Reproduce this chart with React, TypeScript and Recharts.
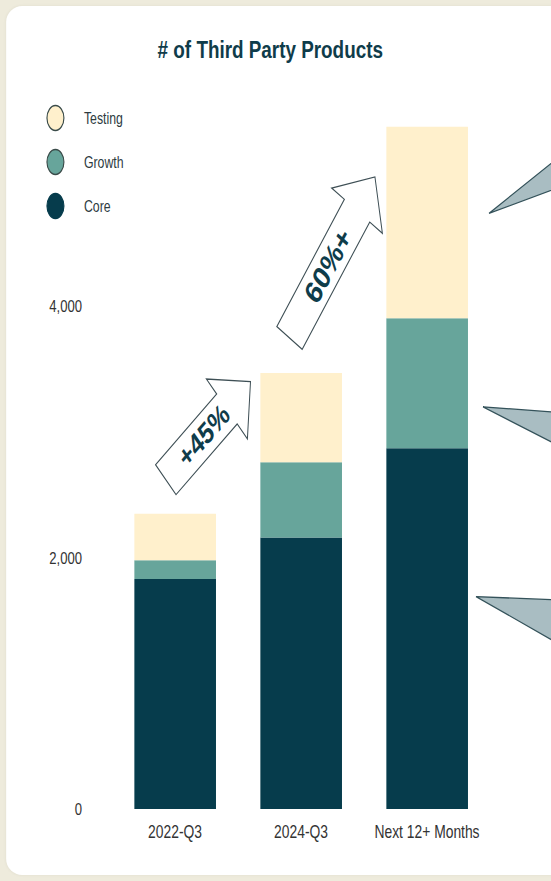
import React from 'react';
import { BarChart, Bar, XAxis, YAxis, Legend, ReferenceDot } from 'recharts';

const categories = ['2022-Q3', '2024-Q3', 'Next 12+ Months'];
const coreValues = [1830, 2160, 2870];
const growthValues = [150, 600, 1035];
const testingValues = [370, 710, 1525];
const yTicks = [0, 2000, 4000];
const yDomain = [0, 6000];
const arrowLabels = ['+45%', '60%+'];
const calloutLevels = [4740, 3200, 1690];

const seriesNames = ['Core', 'Growth', 'Testing'];
const seriesColors = ['#063c4c', '#67a59b', '#fff0cc'];

const data = categories.map((c, i) => ({
  name: c,
  Core: coreValues[i],
  Growth: growthValues[i],
  Testing: testingValues[i],
}));
const totals = categories.map((_, i) => coreValues[i] + growthValues[i] + testingValues[i]);

const SQUISH = 0.77;
const W = 716;
const H = 881;
const FONT = "'Liberation Sans', Arial, Helvetica, sans-serif";
const DARK = '#0f3c4a';

function BlockArrow(props: any) {
  const { cx, cy, tail, tip, label, fontSize } = props;
  if (cx == null || cy == null) return null;
  const sx = cx + tail[0], sy = cy + tail[1];
  const ex = cx + tip[0], ey = cy + tip[1];
  const dx = ex - sx, dy = ey - sy;
  const len = Math.sqrt(dx * dx + dy * dy);
  const ux = dx / len, uy = dy / len;
  const nx = -uy, ny = ux;
  const w = 20, h = 40, L = 41;
  const bx = ex - ux * L, by = ey - uy * L;
  const pts = [
    [sx + nx * w, sy + ny * w],
    [bx + nx * w, by + ny * w],
    [bx + nx * h, by + ny * h],
    [ex, ey],
    [bx - nx * h, by - ny * h],
    [bx - nx * w, by - ny * w],
    [sx - nx * w, sy - ny * w],
  ];
  const tx = sx + dx * 0.45, ty = sy + dy * 0.45;
  const ang = (Math.atan2(uy, ux) * 180) / Math.PI;
  return (
    <g>
      <polygon
        points={pts.map((p) => p.join(',')).join(' ')}
        fill="#ffffff"
        stroke="#3e4f55"
        strokeWidth={1.3}
        strokeLinejoin="miter"
      />
      <text
        x={tx}
        y={ty}
        transform={`rotate(${ang}, ${tx}, ${ty})`}
        textAnchor="middle"
        dominantBaseline="central"
        fontFamily={FONT}
        fontWeight="bold"
        fontSize={fontSize}
        fill={DARK}
      >
        {label}
      </text>
    </g>
  );
}

function Callout(props: any) {
  const { cx, cy, apexDx, upperDy, lowerDy } = props;
  if (cx == null || cy == null) return null;
  const farDx = 206;
  const pts = [
    [cx + apexDx, cy],
    [cx + farDx, cy + upperDy],
    [cx + farDx, cy + lowerDy],
  ];
  return (
    <polygon
      points={pts.map((p) => p.join(',')).join(' ')}
      fill="#a9bdc2"
      stroke="#34525a"
      strokeWidth={1.3}
    />
  );
}

const calloutShapes = [
  { apexDx: 80.5, upperDy: -77.6, lowerDy: -35.7 },
  { apexDx: 72.7, upperDy: 7.5, lowerDy: 52.7 },
  { apexDx: 63.6, upperDy: 4.4, lowerDy: 62.6 },
];

function renderLegend(props: any) {
  const payload = (props && props.payload && props.payload.length
    ? props.payload.map((p: any) => ({ name: p.value, color: p.color }))
    : seriesNames.map((n, i) => ({ name: n, color: seriesColors[i] }))
  ).slice().reverse();
  return (
    <svg width={240} height={240}>
      {payload.map((it: any, i: number) => {
        const y = 118 + i * 44;
        return (
          <g key={it.name}>
            <ellipse
              cx={72}
              cy={y}
              rx={11}
              ry={12.5}
              fill={it.color}
              stroke={it.name === 'Core' ? it.color : '#3a4b49'}
              strokeWidth={1.5}
            />
            <text
              x={109}
              y={y}
              dominantBaseline="central"
              fontFamily={FONT}
              fontSize={16}
              fill="#2d3b3f"
            >
              {it.name}
            </text>
          </g>
        );
      })}
    </svg>
  );
}

export default function App() {
  return (
    <div
      style={{
        position: 'fixed',
        left: 0,
        top: 0,
        width: 551,
        height: 881,
        background: '#eeebdc',
        overflow: 'hidden',
      }}
    >
      <div
        style={{
          position: 'absolute',
          left: 0,
          top: 0,
          width: W,
          height: H,
          transform: `scaleX(${SQUISH})`,
          transformOrigin: '0 0',
        }}
      >
        <div
          style={{
            position: 'absolute',
            left: 8,
            top: 6,
            width: W + 60,
            height: 869,
            background: '#ffffff',
            borderRadius: '21px / 16px',
            boxShadow: '0 0 4px rgba(0,0,0,0.06)',
          }}
        />
        <svg
          width={W}
          height={90}
          style={{ position: 'absolute', left: 0, top: 0 }}
        >
          <text
            x={351}
            y={58}
            textAnchor="middle"
            fontFamily={FONT}
            fontWeight="bold"
            fontSize={24.5}
            fill={DARK}
          >
            # of Third Party Products
          </text>
        </svg>
        <div style={{ position: 'absolute', left: 0, top: 0 }}>
          <BarChart
            width={W}
            height={H}
            data={data}
            margin={{ top: 55, right: 79.6, bottom: 42, left: 85.5 }}
          >
            <XAxis
              dataKey="name"
              axisLine={false}
              tickLine={false}
              tickMargin={10}
              tick={{ fontSize: 18, fill: '#333333', fontFamily: FONT }}
              interval={0}
            />
            <YAxis
              domain={yDomain}
              ticks={yTicks}
              axisLine={false}
              tickLine={false}
              tickMargin={33}
              width={60}
              tickFormatter={(v: number) => v.toLocaleString('en-US')}
              tick={{ fontSize: 17, fill: '#333333', fontFamily: FONT }}
            />
            <Legend
              layout="vertical"
              align="center"
              verticalAlign="middle"
              content={renderLegend}
              wrapperStyle={{ left: 0, top: 0, width: 240, height: 240 }}
            />
            {seriesNames.map((n, i) => (
              <Bar
                key={n}
                dataKey={n}
                stackId="a"
                fill={seriesColors[i]}
                barSize={106}
                isAnimationActive={false}
              />
            ))}
            <ReferenceDot
              x={categories[0]}
              y={totals[0]}
              r={0}
              ifOverflow="visible"
              shape={(p: any) => (
                <BlockArrow cx={p.cx} cy={p.cy} tail={[-12, -34]} tip={[98, -132]} label={arrowLabels[0]} fontSize={30} />
              )}
            />
            <ReferenceDot
              x={categories[1]}
              y={totals[1]}
              r={0}
              ifOverflow="visible"
              shape={(p: any) => (
                <BlockArrow cx={p.cx} cy={p.cy} tail={[-15, -35]} tip={[96, -196]} label={arrowLabels[1]} fontSize={32} />
              )}
            />
            {calloutLevels.map((lv, i) => (
              <ReferenceDot
                key={i}
                x={categories[2]}
                y={lv}
                r={0}
                ifOverflow="visible"
                shape={(p: any) => <Callout cx={p.cx} cy={p.cy} {...calloutShapes[i]} />}
              />
            ))}
          </BarChart>
        </div>
      </div>
    </div>
  );
}
